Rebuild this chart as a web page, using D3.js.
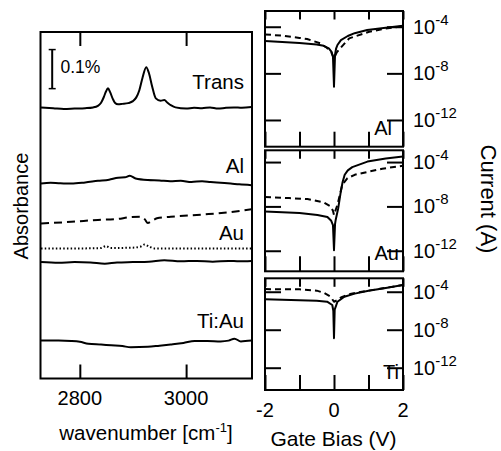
<!DOCTYPE html>
<html>
<head>
<meta charset="utf-8">
<script src="https://cdn.jsdelivr.net/npm/d3@7/dist/d3.min.js"></script>
<style>
  body { margin: 0; background: #fff; }
  svg { display: block; font-family: "Liberation Sans", Arial, sans-serif; }
  .frame { fill: none; stroke: #000; stroke-width: 2; }
  .curve { fill: none; stroke: #000; stroke-width: 2; stroke-linejoin: round; }
  .tick line { stroke: #000; stroke-width: 2; }
</style>
</head>
<body>
<svg id="chart" width="501" height="451"></svg>
<script>
// ---- IR spectra (left panel), absorbance offsets in % ----
const wnTrans = [2727, 2750, 2770, 2790, 2810, 2825, 2834, 2840, 2845, 2849, 2853, 2857, 2862, 2866, 2872, 2880, 2891, 2900, 2906, 2912, 2918, 2925, 2930, 2936, 2943, 2952, 2959, 2965, 2972, 2980, 3000, 3015, 3030, 3045, 3060, 3075, 3090, 3105, 3123];
const absTrans = [0.694, 0.692, 0.690, 0.691, 0.692, 0.694, 0.698, 0.706, 0.720, 0.734, 0.743, 0.733, 0.716, 0.706, 0.702, 0.703, 0.705, 0.710, 0.719, 0.738, 0.770, 0.797, 0.782, 0.748, 0.717, 0.711, 0.713, 0.706, 0.699, 0.694, 0.691, 0.693, 0.692, 0.694, 0.691, 0.693, 0.694, 0.693, 0.695];

const wnAl = [2727, 2745, 2760, 2784, 2810, 2834, 2855, 2872, 2885, 2894, 2905, 2928, 2950, 2970, 2990, 3010, 3030, 3046, 3065, 3084, 3100, 3123];
const absAl = [0.499, 0.501, 0.500, 0.499, 0.502, 0.506, 0.509, 0.514, 0.515, 0.519, 0.512, 0.508, 0.507, 0.505, 0.506, 0.503, 0.505, 0.503, 0.501, 0.499, 0.497, 0.495];

const wnAuDash = [2727, 2784, 2834, 2868, 2896, 2915, 2922, 2928, 2934, 2945, 2971, 3034, 3084, 3123];
const absAuDash = [0.397, 0.401, 0.406, 0.408, 0.413, 0.414, 0.408, 0.398, 0.402, 0.410, 0.414, 0.420, 0.426, 0.433];

const wnAuDot = [2727, 2800, 2840, 2849, 2858, 2900, 2915, 2922, 2930, 2940, 3000, 3123];
const absAuDot = [0.333, 0.333, 0.334, 0.339, 0.334, 0.335, 0.338, 0.343, 0.338, 0.333, 0.333, 0.333];

const wnAuSolid = [2727, 2760, 2790, 2820, 2847, 2870, 2900, 2930, 2959, 2990, 3020, 3050, 3080, 3100, 3123];
const absAuSolid = [0.298, 0.296, 0.298, 0.297, 0.294, 0.297, 0.298, 0.299, 0.303, 0.300, 0.301, 0.299, 0.301, 0.300, 0.301];

const wnTiAu = [2727, 2760, 2784, 2800, 2816, 2840, 2859, 2880, 2896, 2928, 2950, 2971, 2995, 3016, 3040, 3065, 3080, 3091, 3103, 3123];
const absTiAu = [0.097, 0.097, 0.096, 0.094, 0.089, 0.087, 0.085, 0.083, 0.080, 0.081, 0.084, 0.087, 0.091, 0.096, 0.096, 0.095, 0.097, 0.102, 0.095, 0.097];

const wnTicks = [2800, 3000];
const specLabels = ["Trans", "Al", "Au", "Ti:Au"];
const specLabelAbs = [0.740, 0.526, 0.354, 0.129];
const scaleBarAbs = [0.742, 0.842];
const scaleBarWn = 2748;

// ---- gate sweeps (right panels), current in A ----
const biasAlSolid = [-2, -1.5, -1, -0.5, -0.3, -0.15, -0.07, -0.03, 0, 0.03, 0.06, 0.1, 0.2, 0.4, 0.6, 0.96, 1.5, 2];
const currAlSolid = [5.9e-6, 4.8e-6, 4.0e-6, 3.0e-6, 2.3e-6, 1.4e-6, 7.1e-7, 2.5e-7, 7.1e-10, 4.0e-7, 1.3e-6, 2.7e-6, 7.1e-6, 1.6e-5, 2.8e-5, 5.2e-5, 8.3e-5, 1.2e-4];
const biasAlDash = [-2, -1.5, -1, -0.78, -0.4, -0.2, -0.08, 0, 0.08, 0.18, 0.44, 1.02, 1.5, 2];
const currAlDash = [2.2e-5, 1.7e-5, 1.1e-5, 8.9e-6, 3.8e-6, 1.5e-6, 6.3e-7, 2.0e-7, 6.3e-7, 1.4e-6, 1.0e-5, 3.7e-5, 7.1e-5, 1.1e-4];

const biasAuSolid = [-2, -1, -0.48, -0.19, -0.08, -0.03, 0, 0.03, 0.05, 0.12, 0.19, 0.25, 0.31, 0.4, 0.53, 0.97, 1.5, 2];
const currAuSolid = [3.5e-9, 2.5e-9, 1.7e-9, 1.1e-9, 5.0e-10, 2.0e-10, 1.1e-12, 2.5e-10, 6.3e-10, 6.3e-9, 1.6e-7, 1.6e-6, 7.1e-6, 1.8e-5, 3.5e-5, 1.1e-4, 2.1e-4, 3.2e-4];
const biasAuDash = [-2, -1.3, -0.77, -0.3, -0.1, -0.03, 0, 0.05, 0.1, 0.24, 0.39, 0.6, 0.87, 1.4, 2];
const currAuDash = [6.9e-8, 5.6e-8, 4.6e-8, 2.3e-8, 1.0e-8, 4.0e-9, 1.7e-9, 5.0e-9, 1.4e-8, 8.9e-7, 3.5e-6, 7.1e-6, 1.1e-5, 2.5e-5, 4.7e-5];

const biasTiSolid = [-2, -1, -0.5, -0.2, -0.05, -0.02, 0, 0.02, 0.1, 0.3, 0.6, 1, 1.5, 2];
const currTiSolid = [1.6e-5, 1.3e-5, 1.1e-5, 8.9e-6, 4.0e-6, 1.0e-6, 1.3e-9, 1.3e-6, 8.9e-6, 3.0e-5, 6.3e-5, 1.3e-4, 2.5e-4, 5.0e-4];
const biasTiDash = [-2, -1, -0.5, -0.3, -0.1, 0, 0.1, 0.2, 0.5, 1, 1.5, 2];
const currTiDash = [1.9e-4, 1.8e-4, 1.3e-4, 7.9e-5, 3.0e-5, 8.9e-6, 1.3e-5, 2.5e-5, 6.3e-5, 1.3e-4, 2.6e-4, 5.0e-4];

const biasTicks = [-2, -1, 0, 1, 2];
const biasTickLabels = ["-2", "", "0", "", "2"];
const currTicks = [1e-4, 1e-8, 1e-12];
const currTickExp = ["-4", "-8", "-12"];
const panelNames = ["Al", "Au", "Ti"];
const panelDomains = [[2.24e-3, 5.1e-15], [1.15e-3, 1.4e-14], [2.6e-3, 4.5e-15]];

// ---- layout ----
const svg = d3.select("#chart");
const left = { x0: 40.5, x1: 252, y0: 32, y1: 378.5 };
const right = { x0: 265, x1: 403 };
const panelY = [[11, 146.7], [150.3, 271.3], [278.3, 390]];

const xL = d3.scaleLinear().domain([2726, 3124]).range([left.x0, left.x1]);
const yL = d3.scaleLinear().domain([0, 0.887]).range([left.y1, left.y0]);
const xR = d3.scaleLinear().domain([-2, 2]).range([right.x0, right.x1]);

const specLine = d3.line().x(d => xL(d[0])).y(d => yL(d[1])).curve(d3.curveMonotoneX);

// helper for tick marks without the axis line
function ticksOnly(g) {
    g.select(".domain").remove();
    g.selectAll(".tick text").remove();
}

// ---------------- left panel ----------------
const gL = svg.append("g");

gL.append("g")
    .attr("transform", `translate(0,${left.y1})`)
    .call(d3.axisBottom(xL).tickValues(wnTicks).tickSize(-14).tickSizeOuter(0))
    .call(ticksOnly);
gL.append("g")
    .attr("transform", `translate(0,${left.y0})`)
    .call(d3.axisTop(xL).tickValues(wnTicks).tickSize(-14).tickSizeOuter(0))
    .call(ticksOnly);

wnTicks.forEach(w => {
    gL.append("text")
        .attr("x", xL(w))
        .attr("y", 405)
        .attr("text-anchor", "middle")
        .attr("font-size", 20)
        .text(w);
});

const spectra = [
    { wn: wnTrans, abs: absTrans, dash: null },
    { wn: wnAl, abs: absAl, dash: null },
    { wn: wnAuDash, abs: absAuDash, dash: "8,5" },
    { wn: wnAuDot, abs: absAuDot, dash: "1.5,2.2", width: 1.5 },
    { wn: wnAuSolid, abs: absAuSolid, dash: null },
    { wn: wnTiAu, abs: absTiAu, dash: null }
];
spectra.forEach(s => {
    gL.append("path")
        .attr("class", "curve")
        .attr("d", specLine(d3.zip(s.wn, s.abs)))
        .attr("stroke-width", s.width || 2)
        .attr("stroke-dasharray", s.dash);
});

specLabels.forEach((t, i) => {
    gL.append("text")
        .attr("x", 244)
        .attr("y", yL(specLabelAbs[i]))
        .attr("text-anchor", "end")
        .attr("font-size", 20.5)
        .text(t);
});

// 0.1% scale bar
gL.append("line")
    .attr("x1", xL(scaleBarWn)).attr("x2", xL(scaleBarWn))
    .attr("y1", yL(scaleBarAbs[0])).attr("y2", yL(scaleBarAbs[1]))
    .attr("stroke", "#000").attr("stroke-width", 2);
scaleBarAbs.forEach(a => {
    gL.append("line")
        .attr("x1", xL(scaleBarWn) - 3.5).attr("x2", xL(scaleBarWn) + 3.5)
        .attr("y1", yL(a)).attr("y2", yL(a))
        .attr("stroke", "#000").attr("stroke-width", 1.5);
});
gL.append("text")
    .attr("x", 60.5)
    .attr("y", 72.5)
    .attr("font-size", 17.5)
    .text("0.1%");

gL.append("rect")
    .attr("class", "frame")
    .attr("x", left.x0).attr("y", left.y0)
    .attr("width", left.x1 - left.x0).attr("height", left.y1 - left.y0);

gL.append("text")
    .attr("transform", "translate(28,206) rotate(-90)")
    .attr("text-anchor", "middle")
    .attr("font-size", 20)
    .text("Absorbance");

const xt = gL.append("text")
    .attr("x", 146)
    .attr("y", 440)
    .attr("text-anchor", "middle")
    .attr("font-size", 20.5);
xt.append("tspan").text("wavenumber [cm");
xt.append("tspan").attr("dy", -8).attr("font-size", 13).text("-1");
xt.append("tspan").attr("dy", 8).text("]");

// ---------------- right panels ----------------
const sweeps = [
    [{ v: biasAlSolid, i: currAlSolid }, { v: biasAlDash, i: currAlDash }],
    [{ v: biasAuSolid, i: currAuSolid }, { v: biasAuDash, i: currAuDash }],
    [{ v: biasTiSolid, i: currTiSolid }, { v: biasTiDash, i: currTiDash }]
];

panelNames.forEach((name, p) => {
    const [top, bottom] = panelY[p];
    const yR = d3.scaleLog().domain(panelDomains[p]).range([top, bottom]);
    const g = svg.append("g");

    // ticks pointing inwards on all sides
    g.append("g").attr("transform", `translate(0,${bottom})`)
        .call(d3.axisBottom(xR).tickValues(biasTicks).tickSize(-15).tickSizeOuter(0))
        .call(ticksOnly);
    g.append("g").attr("transform", `translate(0,${top})`)
        .call(d3.axisTop(xR).tickValues(biasTicks).tickSize(-8.5).tickSizeOuter(0))
        .call(ticksOnly);
    g.append("g").attr("transform", `translate(${right.x0},0)`)
        .call(d3.axisLeft(yR).tickValues(currTicks).tickSize(-16).tickSizeOuter(0))
        .call(ticksOnly);
    g.append("g").attr("transform", `translate(${right.x1},0)`)
        .call(d3.axisRight(yR).tickValues(currTicks).tickSize(-16).tickSizeOuter(0))
        .call(ticksOnly);

    const line = d3.line().x(d => xR(d[0])).y(d => yR(d[1]));
    const clipId = "clip" + p;
    g.append("clipPath").attr("id", clipId)
        .append("rect").attr("x", right.x0).attr("y", top)
        .attr("width", right.x1 - right.x0).attr("height", bottom - top);

    sweeps[p].forEach((s, k) => {
        g.append("path")
            .attr("class", "curve")
            .attr("clip-path", `url(#${clipId})`)
            .attr("d", line(d3.zip(s.v, s.i)))
            .attr("stroke-dasharray", k === 1 ? "6,4" : null);
    });

    g.append("rect")
        .attr("class", "frame")
        .attr("x", right.x0).attr("y", top)
        .attr("width", right.x1 - right.x0).attr("height", bottom - top);

    g.append("text")
        .attr("x", name === "Al" ? 392 : 399)
        .attr("y", bottom - 11.5)
        .attr("text-anchor", "end")
        .attr("font-size", 20)
        .text(name);

    currTicks.forEach((c, j) => {
        const t = g.append("text")
            .attr("x", 413)
            .attr("y", yR(c) + 7)
            .attr("font-size", 20);
        t.append("tspan").text("10");
        t.append("tspan").attr("dy", -9).attr("font-size", 15).text(currTickExp[j]);
    });
});

biasTicks.forEach((b, i) => {
    svg.append("text")
        .attr("x", xR(b))
        .attr("y", 417)
        .attr("text-anchor", "middle")
        .attr("font-size", 20)
        .text(biasTickLabels[i]);
});

svg.append("text")
    .attr("x", xR(0) - 0.5)
    .attr("y", 446)
    .attr("text-anchor", "middle")
    .attr("font-size", 21)
    .text("Gate Bias (V)");

svg.append("text")
    .attr("transform", "translate(481,199) rotate(90)")
    .attr("text-anchor", "middle")
    .attr("font-size", 22)
    .text("Current (A)");
</script>
</body>
</html>
